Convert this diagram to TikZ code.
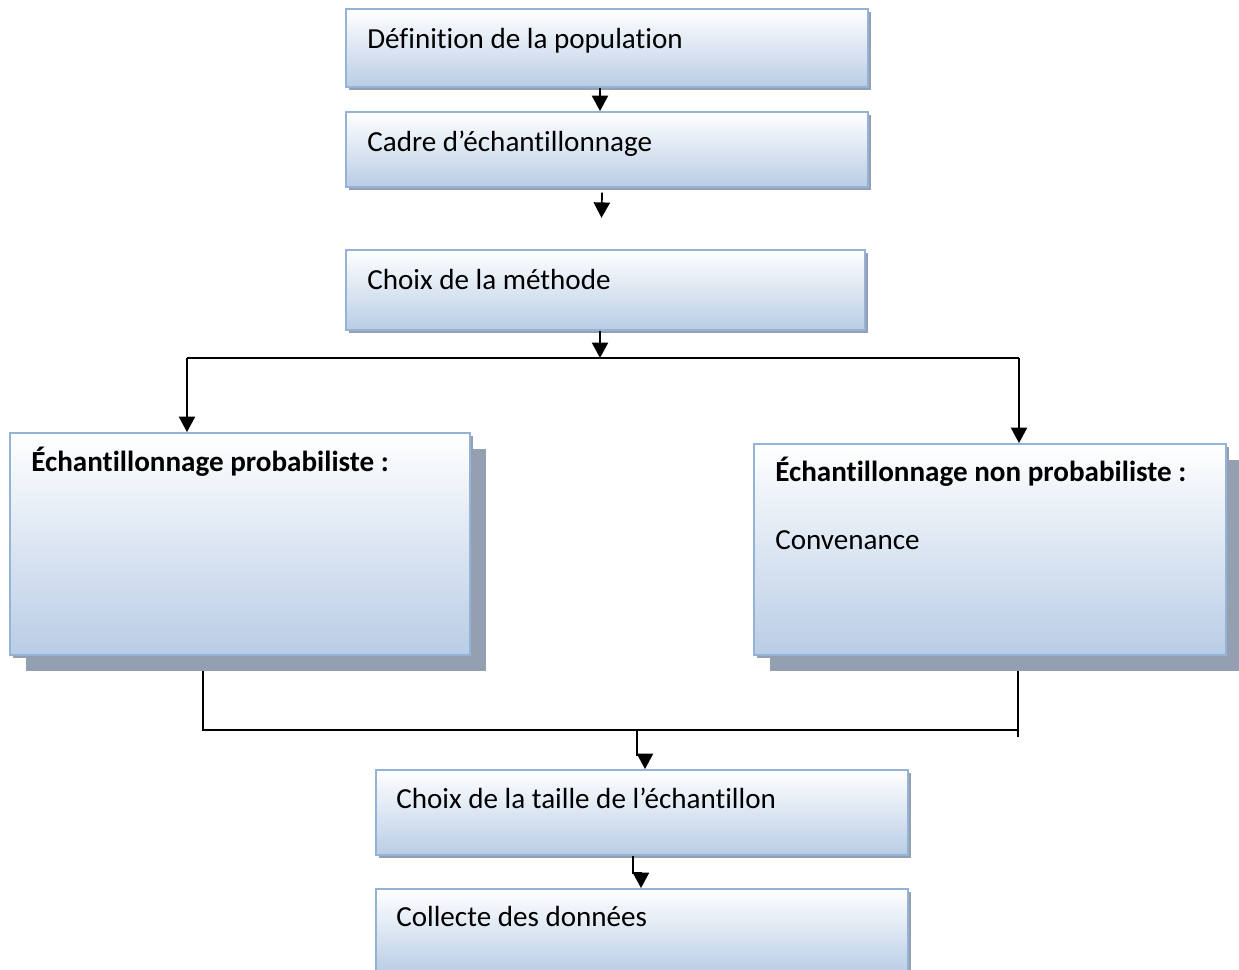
\documentclass[tikz,border=0pt]{standalone}
\usepackage{fontspec}
\setmainfont{Carlito}[RawFeature={-liga;-clig;-calt}]
\usetikzlibrary{arrows.meta,calc,shadows,backgrounds}
\definecolor{boxblue}{RGB}{185,205,229}
\definecolor{boxedge}{RGB}{149,179,215}
\definecolor{shadowgray}{RGB}{148,160,177}

\begin{document}
\begin{tikzpicture}[
	x=0.025cm, y=-0.025cm,
	font=\fontsize{20.7}{25}\selectfont,
	stage/.style={draw=boxedge, line width=1.3pt, top color=white, bottom color=boxblue,
		drop shadow={fill=shadowgray, opacity=1, shadow xshift=0.08cm, shadow yshift=-0.08cm}},
	bigstage/.style={stage, drop shadow={fill=shadowgray, opacity=1, shadow xshift=0.4cm, shadow yshift=-0.4cm}},
	caption/.style={anchor=base west, inner sep=0pt},
	link/.style={line width=1.2pt},
	arr/.style={link, -{Triangle[width=11.5pt,length=11pt]}}]
\useasboundingbox (0,0) rectangle (1239,969);

% stages
\node[stage, minimum width=13.05cm, minimum height=1.95cm] (def) at (607,48) {};
\node[stage, minimum width=13.05cm, minimum height=1.875cm] (cadre) at (607,149.5) {};
\node[stage, minimum width=12.975cm, minimum height=2cm] (methode) at (605.5,290) {};
\node[bigstage, minimum width=11.5cm, minimum height=5.55cm] (proba) at (240,544) {};
\node[bigstage, minimum width=11.8cm, minimum height=5.275cm] (nonproba) at (990,549.5) {};
\node[stage, minimum width=13.3cm, minimum height=2.125cm] (taille) at (642,812.5) {};
\node[stage, minimum width=13.3cm, minimum height=2.125cm] (collecte) at (642,931.5) {};

\node[caption] (def-t) at ($(def.north west)+(22,40)$) {Définition de la population};
\node[caption] (cadre-t) at ($(cadre.north west)+(22,40)$) {Cadre d’échantillonnage};
\node[caption] (methode-t) at ($(methode.north west)+(22,40)$) {Choix de la méthode};
\node[caption] (proba-t) at ($(proba.north west)+(22,39)$) {\textbf{Échantillonnage probabiliste :}};
\node[caption] (nonproba-t) at ($(nonproba.north west)+(22,38)$) {\textbf{Échantillonnage non probabiliste :}};
\node[caption] (nonproba-i) at ($(nonproba.north west)+(22,106)$) {Convenance};
\node[caption] (taille-t) at ($(taille.north west)+(21,39)$) {Choix de la taille de l’échantillon};
\node[caption] (collecte-t) at ($(collecte.north west)+(21,38)$) {Collecte des données};

\coordinate (axis) at (600,0);
\coordinate (forkL) at (187,358);
\coordinate (forkM) at (600,358);
\coordinate (forkR) at (1019,358);
\coordinate (joinL) at (203,730);
\coordinate (joinR) at (1018,730);
\coordinate (jogA) at (637,755);
\coordinate (jogB) at (645,755);
\coordinate (jogC) at (633,873);
\coordinate (jogD) at (641,873);

\draw[arr] (def.south -| axis) -- (cadre.north -| axis);
\draw[arr, shorten <=0.12cm, shorten >=0.78cm] ([xshift=-0.12cm]cadre.south) -- ([xshift=-0.12cm]methode.north);
\draw[arr] (methode.south -| forkM) -- (forkM);
\draw[link] (forkL) -- (forkR);
\draw[arr] (forkL) -- (forkL |- proba.north);
\draw[arr] (forkR) -- (forkR |- nonproba.north);
\begin{pgfonlayer}{background}
	\draw[link] (proba.south -| joinL) -- (joinL) -- (joinR);
	\draw[link] (nonproba.south -| joinR) -- ([yshift=-0.18cm]joinR);
\end{pgfonlayer}
\draw[arr] (jogA |- joinL) -- (jogA) -- (jogB) -- (jogB |- taille.north);
\draw[arr] (jogC |- taille.south) -- (jogC) -- (jogD) -- (jogD |- collecte.north);
\end{tikzpicture}
\end{document}
